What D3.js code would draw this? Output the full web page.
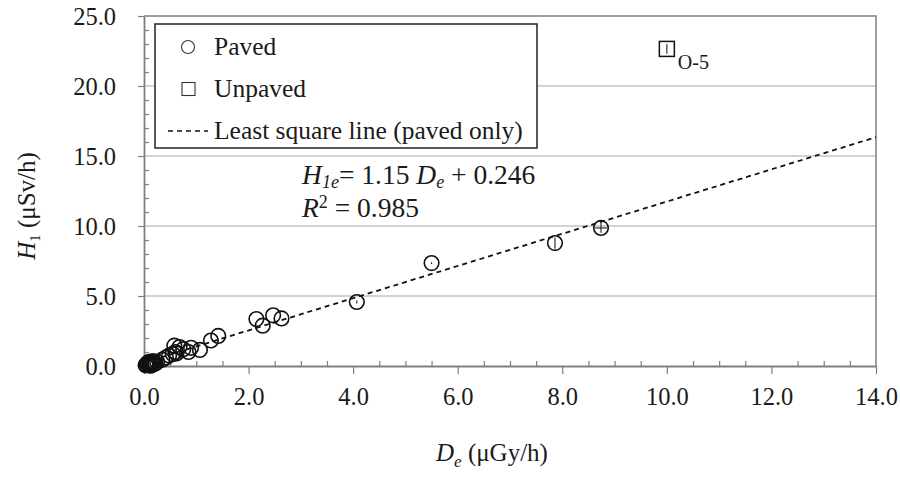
<!DOCTYPE html>
<html>
<head>
<meta charset="utf-8">
<script src="https://cdn.jsdelivr.net/npm/d3@7"></script>
<style>
  body { margin: 0; background: #fff; }
  svg { display: block; }
  svg text { font-family: 'Liberation Serif', 'Times New Roman', Tinos, 'DejaVu Serif', serif; }
</style>
</head>
<body>
<div id="chart"></div>
<script>
/** --- DATA --- */

// paved sites: De (uGy/h) vs H1 (uSv/h)
const pavedX = [0.03, 0.05, 0.06, 0.08, 0.1, 0.1, 0.12, 0.13, 0.14, 0.15, 0.17, 0.18, 0.2, 0.22, 0.25,
  0.35, 0.42, 0.48, 0.55, 0.6, 0.58, 0.68, 0.62, 0.75, 0.85, 0.9,
  1.07, 1.28, 1.42, 2.15, 2.27, 2.47, 2.63, 4.07, 5.5, 7.86, 8.74];
const pavedY = [0.05, 0.08, 0.2, 0.1, 0.05, 0.3, 0.15, 0.02, 0.28, 0.2, 0.35, 0.12, 0.25, 0.18, 0.3,
  0.45, 0.6, 0.75, 0.85, 1.0, 1.45, 1.35, 0.9, 1.2, 1.0, 1.3,
  1.15, 1.82, 2.15, 3.35, 2.88, 3.62, 3.4, 4.57, 7.35, 8.78, 9.86];
const pavedYErr = [0, 0, 0, 0, 0, 0, 0, 0, 0, 0, 0, 0, 0, 0, 0,
  0, 0, 0, 0, 0, 0, 0, 0, 0, 0, 0,
  0, 0, 0, 0, 0, 0, 0, 0.1, 0.06, 0.4, 0.35];
const pavedXErr = [0, 0, 0, 0, 0, 0, 0, 0, 0, 0, 0, 0, 0, 0, 0,
  0, 0, 0, 0, 0, 0, 0, 0, 0, 0, 0,
  0, 0, 0, 0, 0, 0, 0, 0, 0, 0, 0.12];

const unpavedX = [10.0];
const unpavedY = [22.65];
const unpavedYErr = [0.35];
const unpavedLabels = ['O-5'];

const slope = 1.15;
const intercept = 0.246;
const fitRange = [0, 14];

const xTicks = [0, 2, 4, 6, 8, 10, 12, 14];
const yTicks = [0, 5, 10, 15, 20, 25];
const legendLabels = ['Paved', 'Unpaved', 'Least square line (paved only)'];

/** --- DIMENSIONS --- */

const width = 900;
const height = 477;
const plot = { left: 144, right: 876, top: 16, bottom: 366 };

const svg = d3.select('#chart')
  .append('svg')
  .attr('width', width)
  .attr('height', height);

/** --- SCALES --- */

const x = d3.scaleLinear().domain([0, 14]).range([plot.left, plot.right]);
const y = d3.scaleLinear().domain([0, 25]).range([plot.bottom, plot.top]);

const axisColor = '#7f7f7f';
const textColor = '#1a1a1a';

// gridlines
svg.append('g')
  .selectAll('line')
  .data(yTicks.filter(d => d > 0 && d < 25))
  .join('line')
  .attr('x1', plot.left).attr('x2', plot.right)
  .attr('y1', d => y(d)).attr('y2', d => y(d))
  .attr('stroke', '#c4c4c4')
  .attr('stroke-width', 1.3);

// plot frame (top + right)
svg.append('path')
  .attr('d', `M${plot.left},${plot.top}H${plot.right}V${plot.bottom}`)
  .attr('fill', 'none')
  .attr('stroke', axisColor)
  .attr('stroke-width', 1.5);

// minor ticks, inside
const xMinor = d3.range(0, 14.01, 0.5).filter(d => !xTicks.includes(d));
const yMinor = d3.range(0, 25.01, 1).filter(d => !yTicks.includes(d));

svg.append('g')
  .attr('transform', `translate(0,${plot.bottom})`)
  .call(d3.axisBottom(x).tickValues(xMinor).tickSizeInner(-5).tickSizeOuter(0).tickFormat(''))
  .call(g => g.select('.domain').remove())
  .call(g => g.selectAll('line').attr('stroke', axisColor).attr('stroke-width', 1.2));

svg.append('g')
  .attr('transform', `translate(${plot.left},0)`)
  .call(d3.axisLeft(y).tickValues(yMinor).tickSizeInner(-5).tickSizeOuter(0).tickFormat(''))
  .call(g => g.select('.domain').remove())
  .call(g => g.selectAll('line').attr('stroke', axisColor).attr('stroke-width', 1.2));

// major axes
const xAxis = svg.append('g')
  .attr('transform', `translate(0,${plot.bottom})`)
  .call(d3.axisBottom(x).tickValues(xTicks).tickSizeInner(8).tickSizeOuter(0).tickPadding(14).tickFormat(d3.format('.1f')));

const yAxis = svg.append('g')
  .attr('transform', `translate(${plot.left},0)`)
  .call(d3.axisLeft(y).tickValues(yTicks).tickSizeInner(6).tickSizeOuter(0).tickPadding(22).tickFormat(d3.format('.1f')));

[xAxis, yAxis].forEach(g => {
  g.attr('font-family', null);
  g.select('.domain').attr('stroke', axisColor).attr('stroke-width', 1.8);
  g.selectAll('line').attr('stroke', axisColor).attr('stroke-width', 1.2);
  g.selectAll('text')
    .attr('fill', textColor)
    .style('font-size', '24.5px');
});
yAxis.selectAll('text').attr('dy', '0.35em');

/** --- FIT LINE --- */

const line = d3.line()
  .x(d => x(d))
  .y(d => y(slope * d + intercept));

svg.append('path')
  .datum(fitRange)
  .attr('d', line)
  .attr('fill', 'none')
  .attr('stroke', '#111')
  .attr('stroke-width', 1.8)
  .attr('stroke-dasharray', '5,4');

/** --- POINTS --- */

const paved = pavedX.map((d, i) => ({ x: d, y: pavedY[i], ey: pavedYErr[i], ex: pavedXErr[i] }));

const pts = svg.append('g');

pts.selectAll('g.err')
  .data(paved.filter(d => d.ey > 0 || d.ex > 0))
  .join('g')
  .attr('class', 'err')
  .each(function(d) {
    const g = d3.select(this);
    if (d.ey > 0) {
      g.append('line')
        .attr('x1', x(d.x)).attr('x2', x(d.x))
        .attr('y1', y(d.y - d.ey)).attr('y2', y(d.y + d.ey))
        .attr('stroke', '#222').attr('stroke-width', 1.1);
    }
    if (d.ex > 0) {
      g.append('line')
        .attr('x1', x(d.x - d.ex)).attr('x2', x(d.x + d.ex))
        .attr('y1', y(d.y)).attr('y2', y(d.y))
        .attr('stroke', '#222').attr('stroke-width', 1.1);
    }
  });

pts.selectAll('circle')
  .data(paved)
  .join('circle')
  .attr('cx', d => x(d.x))
  .attr('cy', d => y(d.y))
  .attr('r', 7.3)
  .attr('fill', 'none')
  .attr('stroke', '#111')
  .attr('stroke-width', 1.6);

const unpaved = unpavedX.map((d, i) => ({ x: d, y: unpavedY[i], ey: unpavedYErr[i], label: unpavedLabels[i] }));

const up = svg.append('g').selectAll('g')
  .data(unpaved)
  .join('g');

up.append('line')
  .attr('x1', d => x(d.x)).attr('x2', d => x(d.x))
  .attr('y1', d => y(d.y - d.ey)).attr('y2', d => y(d.y + d.ey))
  .attr('stroke', '#222').attr('stroke-width', 1.1);

up.append('rect')
  .attr('x', d => x(d.x) - 7.5)
  .attr('y', d => y(d.y) - 7.5)
  .attr('width', 15)
  .attr('height', 15)
  .attr('fill', 'none')
  .attr('stroke', '#111')
  .attr('stroke-width', 1.5);

up.append('text')
  .attr('x', d => x(d.x) + 11)
  .attr('y', d => y(d.y) + 20)
  .attr('fill', textColor)
  .style('font-size', '20px')
  .text(d => d.label);

/** --- LEGEND --- */

const legend = svg.append('g');

legend.append('rect')
  .attr('x', 155).attr('y', 24)
  .attr('width', 382).attr('height', 124)
  .attr('fill', '#fff')
  .attr('stroke', '#222')
  .attr('stroke-width', 1.5);

const legendY = [47, 89, 131];

legend.append('circle')
  .attr('cx', 188).attr('cy', legendY[0]).attr('r', 6.5)
  .attr('fill', 'none').attr('stroke', '#333').attr('stroke-width', 1.1);

legend.append('rect')
  .attr('x', 182).attr('y', legendY[1] - 6.5).attr('width', 13).attr('height', 13)
  .attr('fill', 'none').attr('stroke', '#333').attr('stroke-width', 1.1);

legend.append('line')
  .attr('x1', 168).attr('x2', 208)
  .attr('y1', legendY[2]).attr('y2', legendY[2])
  .attr('stroke', '#111').attr('stroke-width', 1.5)
  .attr('stroke-dasharray', '5,4');

legend.selectAll('text')
  .data(legendLabels)
  .join('text')
  .attr('x', 214)
  .attr('y', (d, i) => legendY[i] + 8)
  .attr('fill', textColor)
  .style('font-size', '25.5px')
  .text(d => d);

/** --- EQUATION --- */

const eq = svg.append('text')
  .attr('x', 302).attr('y', 184)
  .attr('fill', textColor)
  .style('font-size', '27.5px');
eq.append('tspan').style('font-style', 'italic').text('H');
eq.append('tspan').style('font-style', 'italic').style('font-size', '18px').attr('dy', 4).text('1e');
eq.append('tspan').attr('dy', -4).text('= 1.15 ');
eq.append('tspan').style('font-style', 'italic').text('D');
eq.append('tspan').style('font-style', 'italic').style('font-size', '18px').attr('dy', 4).text('e');
eq.append('tspan').attr('dy', -4).text(' + 0.246');

const r2 = svg.append('text')
  .attr('x', 302).attr('y', 217)
  .attr('fill', textColor)
  .style('font-size', '27.5px');
r2.append('tspan').style('font-style', 'italic').text('R');
r2.append('tspan').style('font-size', '18px').attr('dy', -9).text('2');
r2.append('tspan').attr('dy', 9).text(' = 0.985');

/** --- AXIS TITLES --- */

const xt = svg.append('text')
  .attr('x', 492)
  .attr('y', 461)
  .attr('text-anchor', 'middle')
  .attr('fill', textColor)
  .style('font-size', '25px');
xt.append('tspan').style('font-style', 'italic').text('D');
xt.append('tspan').style('font-style', 'italic').style('font-size', '17px').attr('dy', 6).text('e');
xt.append('tspan').attr('dy', -6).text(' (μGy/h)');

const yt = svg.append('text')
  .attr('transform', `translate(35,${(plot.top + plot.bottom) / 2 + 15}) rotate(-90)`)
  .attr('text-anchor', 'middle')
  .attr('fill', textColor)
  .style('font-size', '25px');
yt.append('tspan').style('font-style', 'italic').text('H');
yt.append('tspan').style('font-size', '15px').attr('dy', 5).text('1');
yt.append('tspan').attr('dy', -5).text(' (μSv/h)');
</script>
</body>
</html>
